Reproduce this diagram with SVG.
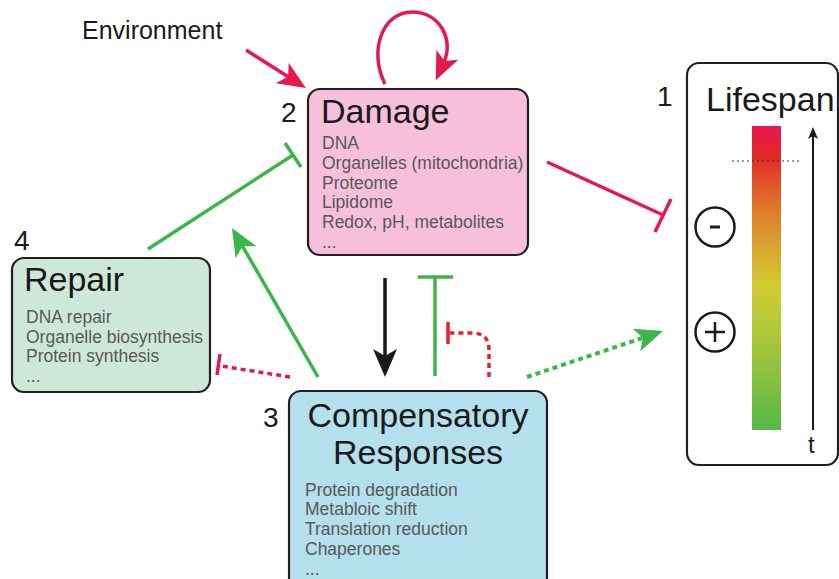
<svg xmlns="http://www.w3.org/2000/svg" width="839" height="579" viewBox="0 0 839 579">
<style>
.box{stroke:#231f20;stroke-width:2.2}
.title{font-family:"Liberation Sans",Arial,sans-serif;font-size:34px;fill:#1a1a1a}
.num{font-family:"Liberation Sans",Arial,sans-serif;font-size:28px;fill:#1a1a1a}
.sub{font-family:"Liberation Sans",Arial,sans-serif;font-size:17.5px;fill:#58585a}
.crim{stroke:#e6194e;stroke-width:3.5;fill:none}
.grn{stroke:#3cb54a;stroke-width:3.5;fill:none}
</style>
<defs>
<linearGradient id="grad" x1="0" y1="0" x2="0" y2="1">
<stop offset="0" stop-color="#e8174f"/>
<stop offset="0.1" stop-color="#e12a25"/>
<stop offset="0.25" stop-color="#e0702a"/>
<stop offset="0.4" stop-color="#d9a530"/>
<stop offset="0.52" stop-color="#d2cb30"/>
<stop offset="0.72" stop-color="#a5c63a"/>
<stop offset="1" stop-color="#56b748"/>
</linearGradient>
<marker id="hCrim" viewBox="0 0 28 24" refX="8" refY="12" markerWidth="28" markerHeight="24" markerUnits="userSpaceOnUse" orient="auto"><path d="M0,0 L28,12 L0,24 L7,12 z" fill="#e6194e"/></marker>
<marker id="hGrn" viewBox="0 0 28 24" refX="8" refY="12" markerWidth="28" markerHeight="24" markerUnits="userSpaceOnUse" orient="auto"><path d="M0,0 L28,12 L0,24 L7,12 z" fill="#3cb54a"/></marker>
<marker id="hBlk" viewBox="0 0 28 24" refX="8" refY="12" markerWidth="28" markerHeight="24" markerUnits="userSpaceOnUse" orient="auto"><path d="M0,0 L28,12 L0,24 L7,12 z" fill="#1a1a1a"/></marker>
<marker id="hSmall" viewBox="0 0 12 10" refX="3" refY="5" markerWidth="12" markerHeight="10" markerUnits="userSpaceOnUse" orient="auto"><path d="M0,0 L12,5 L0,10 L3,5 z" fill="#1a1a1a"/></marker>
</defs>
<rect width="839" height="579" fill="#ffffff"/>

<g id="environment">
<text x="82" y="39" font-family="Liberation Sans, Arial, sans-serif" font-size="25" fill="#1a1a1a">Environment</text>
</g>

<g id="damage">
<rect class="box" x="308" y="89" width="220" height="166" rx="12" fill="#f6c0da"/>
<text class="num" x="281" y="122">2</text>
<text class="title" x="321" y="123">Damage</text>
<text class="sub" x="322" y="149">DNA</text>
<text class="sub" x="322" y="169">Organelles (mitochondria)</text>
<text class="sub" x="322" y="188.5">Proteome</text>
<text class="sub" x="322" y="208">Lipidome</text>
<text class="sub" x="322" y="228">Redox, pH, metabolites</text>
<text class="sub" x="322" y="248">...</text>
</g>

<g id="repair">
<rect class="box" x="12" y="258" width="198" height="134" rx="12" fill="#cde8d9"/>
<text class="num" x="14" y="250">4</text>
<text class="title" x="24" y="291">Repair</text>
<text class="sub" x="26" y="323">DNA repair</text>
<text class="sub" x="26" y="343">Organelle biosynthesis</text>
<text class="sub" x="26" y="362">Protein synthesis</text>
<text class="sub" x="26" y="382">...</text>
</g>

<g id="compensatory">
<rect class="box" x="289" y="391" width="258" height="205" rx="12" fill="#b4dfec"/>
<text class="num" x="263" y="427">3</text>
<text class="title" x="418" y="427" text-anchor="middle">Compensatory</text>
<text class="title" x="418" y="464" text-anchor="middle">Responses</text>
<text class="sub" x="305" y="496">Protein degradation</text>
<text class="sub" x="305" y="515">Metabloic shift</text>
<text class="sub" x="305" y="535">Translation reduction</text>
<text class="sub" x="305" y="555">Chaperones</text>
<text class="sub" x="305" y="575">...</text>
</g>

<g id="lifespan">
<rect class="box" x="687" y="63" width="151" height="402" rx="12" fill="#ffffff"/>
<text class="num" x="657" y="106">1</text>
<text class="title" x="706" y="111">Lifespan</text>
<rect x="752" y="126" width="29" height="304" fill="url(#grad)"/>
<line x1="732" y1="161" x2="799" y2="161" stroke="#333" stroke-width="1" stroke-dasharray="2,3"/>
<line x1="813" y1="430" x2="813" y2="136" stroke="#1a1a1a" stroke-width="2" marker-end="url(#hSmall)"/>
<text x="808" y="453" font-family="Liberation Sans, Arial, sans-serif" font-size="24" fill="#1a1a1a">t</text>
<circle cx="715" cy="227" r="19.5" fill="none" stroke="#1a1a1a" stroke-width="2.5"/>
<line x1="710" y1="227" x2="720" y2="227" stroke="#1a1a1a" stroke-width="3"/>
<circle cx="715" cy="332" r="19.5" fill="none" stroke="#1a1a1a" stroke-width="2.5"/>
<line x1="705" y1="332" x2="725" y2="332" stroke="#1a1a1a" stroke-width="2.5"/>
<line x1="715" y1="322" x2="715" y2="342" stroke="#1a1a1a" stroke-width="2.5"/>
</g>

<g id="connectors">
<line class="crim" x1="246" y1="50" x2="289" y2="77.3" marker-end="url(#hCrim)"/>
<path class="crim" d="M385,84 C368,50 383,12 412,12 C440,12 454,40 444,62" marker-end="url(#hCrim)"/>
<line class="crim" x1="547" y1="162" x2="663" y2="215"/>
<line class="crim" x1="655" y1="232" x2="671" y2="199"/>
<line class="grn" x1="148" y1="249" x2="293" y2="155"/>
<line class="grn" x1="285" y1="143" x2="301" y2="167"/>
<line class="grn" x1="318" y1="377" x2="242" y2="245.3" marker-end="url(#hGrn)"/>
<line x1="385" y1="278" x2="385" y2="357" stroke="#1a1a1a" stroke-width="3.5" marker-end="url(#hBlk)"/>
<line class="grn" x1="435" y1="376" x2="435" y2="277"/>
<line class="grn" x1="418" y1="277" x2="453" y2="277"/>
<path d="M489,377 L489,350 Q489,333 472,333 L449,333" fill="none" stroke="#e3202e" stroke-width="3.5" stroke-dasharray="5,4"/>
<line x1="448" y1="322" x2="448" y2="344" stroke="#e3202e" stroke-width="3.5"/>
<line x1="290" y1="377" x2="221" y2="366" stroke="#e6194e" stroke-width="3.5" stroke-dasharray="5,4"/>
<line x1="220" y1="354" x2="217" y2="375" stroke="#e6194e" stroke-width="3.5"/>
<line x1="527" y1="377" x2="644" y2="337.4" stroke="#3cb54a" stroke-width="4" stroke-dasharray="5,4" marker-end="url(#hGrn)"/>
</g>
</svg>
